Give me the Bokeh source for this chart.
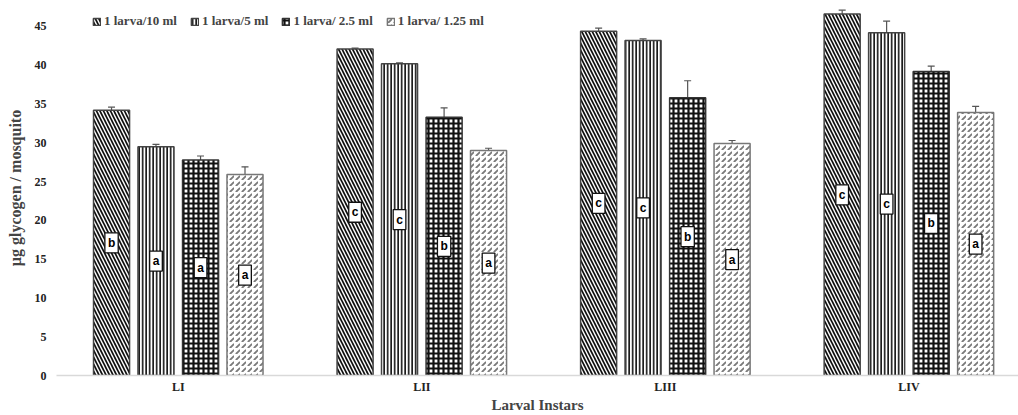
from bokeh.plotting import figure
from bokeh.models import ColumnDataSource, Legend, LegendItem, Whisker, FixedTicker
from bokeh.core.properties import value
from bokeh.embed import file_html
from bokeh.resources import INLINE

instars = ["LI", "LII", "LIII", "LIV"]
series_names = ["1 larva/10 ml", "1 larva/5 ml", "1 larva/ 2.5 ml", "1 larva/ 1.25 ml"]
d10 = [34.2, 42.1, 44.4, 46.6]
d5 = [29.5, 40.2, 43.2, 44.2]
d25 = [27.8, 33.3, 35.8, 39.2]
d125 = [25.9, 29.0, 29.9, 33.9]
e10 = [0.4, 0.1, 0.4, 0.5]
e5 = [0.3, 0.1, 0.2, 1.5]
e25 = [0.5, 1.2, 2.2, 0.7]
e125 = [1.0, 0.3, 0.4, 0.8]
l10 = ["b", "c", "c", "c"]
l5 = ["a", "c", "c", "c"]
l25 = ["a", "b", "b", "b"]
l125 = ["a", "a", "a", "a"]
y_ticks = [0, 5, 10, 15, 20, 25, 30, 35, 40, 45]

values = [d10, d5, d25, d125]
errors = [e10, e5, e25, e125]
letters = [l10, l5, l25, l125]

FONT = "Liberation Serif"

centers = [i + 0.5 for i in range(len(instars))]

p = figure(x_range=(0, 3.95), y_range=(0, 48.35),
           width=1018, height=415, output_backend="svg", toolbar_location=None,
           min_border_left=56, min_border_right=0, min_border_top=0, min_border_bottom=40)
p.outline_line_color = None
p.xgrid.grid_line_color = None
p.ygrid.grid_line_color = None

styles = [
    dict(fill_color="white", hatch_pattern="left_diagonal_line", hatch_color="#111111",
         hatch_scale=7, hatch_weight=1.7, line_color="#444444"),
    dict(fill_color="white", hatch_pattern="vertical_line", hatch_color="#1a1a1a",
         hatch_scale=3.5, hatch_weight=1.8, line_color="#444444"),
    dict(fill_color="white", hatch_pattern="cross", hatch_color="#111111",
         hatch_scale=5, hatch_weight=2.2, line_color="#333333"),
    dict(fill_color="white", hatch_pattern="right_diagonal_dash", hatch_color="#7a7a7a",
         hatch_scale=6, hatch_weight=1.8, line_color="#777777"),
]
offsets = [-0.274, -0.0915, 0.0915, 0.274]
bar_w = 0.148

items = []
for i in range(4):
    src = ColumnDataSource(dict(x=[c + offsets[i] for c in centers], top=values[i],
                                upper=[v + e for v, e in zip(values[i], errors[i])],
                                mid=[v / 2 for v in values[i]], lab=letters[i]))
    r = p.vbar(x="x", top="top", width=bar_w, source=src, line_width=1.5, **styles[i])
    items.append(LegendItem(label=series_names[i], renderers=[r]))
    w = Whisker(base="x", lower="top", upper="upper", source=src, dimension="height",
                line_color="#555555", line_width=1.2)
    w.lower_head = None
    w.upper_head.size = 7
    w.upper_head.line_color = "#555555"
    w.upper_head.line_width = 1.2
    p.add_layout(w)
    p.text(x="x", y="mid", text="lab", source=src, text_align="center",
           text_baseline="middle", text_font=value("Liberation Sans"), text_font_style="bold",
           text_font_size="12px", background_fill_color="white",
           border_line_color="#111111", border_line_width=1.3, padding=3)

legend = Legend(items=items, orientation="horizontal", location=(36, 346),
                label_text_font=FONT, label_text_font_style="bold", label_text_font_size="13px",
                glyph_width=9, glyph_height=9, spacing=13, label_standoff=3,
                background_fill_alpha=0, border_line_color=None, padding=4, margin=0)
p.add_layout(legend)

p.xaxis.ticker = FixedTicker(ticks=centers)
p.xaxis.major_label_overrides = {c: n for c, n in zip(centers, instars)}

p.yaxis.ticker = y_ticks
p.yaxis.axis_line_color = None
p.yaxis.major_tick_line_color = None
p.yaxis.minor_tick_line_color = None
p.yaxis.major_tick_out = 0
p.yaxis.major_tick_in = 0
p.yaxis.major_label_standoff = 10
p.yaxis.major_label_text_font = FONT
p.yaxis.major_label_text_font_style = "bold"
p.yaxis.major_label_text_font_size = "12px"
p.yaxis.major_label_text_color = "#222222"
p.yaxis.axis_label = "µg glycogen / mosquito"
p.yaxis.axis_label_text_font = FONT
p.yaxis.axis_label_text_font_style = "bold"
p.yaxis.axis_label_text_font_size = "16px"
p.yaxis.axis_label_standoff = 8

p.xaxis.axis_line_color = "#d9d9d9"
p.xaxis.axis_line_width = 1.5
p.xaxis.major_tick_line_color = None
p.xaxis.minor_tick_line_color = None
p.xaxis.major_tick_out = 0
p.xaxis.major_tick_in = 0
p.xaxis.major_label_text_font = FONT
p.xaxis.major_label_text_font_style = "bold"
p.xaxis.major_label_text_font_size = "12px"
p.xaxis.major_label_text_color = "#222222"
p.xaxis.major_label_standoff = 4
p.xaxis.axis_label = "Larval Instars"
p.xaxis.axis_label_text_font = FONT
p.xaxis.axis_label_text_font_style = "bold"
p.xaxis.axis_label_text_font_size = "15px"
p.xaxis.axis_label_standoff = 0

open("out.html", "w").write(file_html(p, INLINE))
